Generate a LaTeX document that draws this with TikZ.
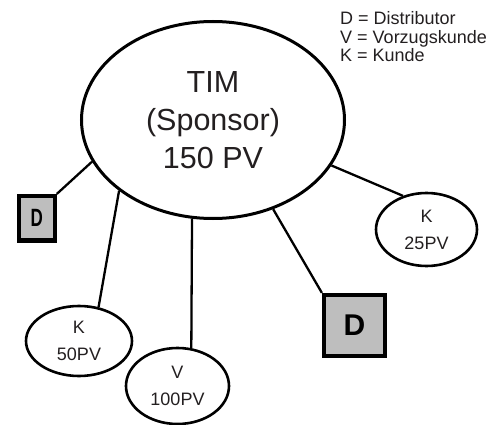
\documentclass[tikz,border=0pt]{standalone}
\usepackage{fontspec}
\setmainfont{Liberation Sans}
\usetikzlibrary{shapes.geometric}
\definecolor{boxgray}{HTML}{BEBEBE}
\definecolor{ink}{HTML}{231F20}
\begin{document}
\begin{tikzpicture}[x=1pt,y=-1pt,
  big/.style={ellipse,draw,line width=3pt,minimum width=263pt,minimum height=197pt,inner sep=0pt,align=center,text=ink,font=\fontsize{30.5}{38}\selectfont},
  small/.style={ellipse,draw,line width=2.6pt,inner sep=0pt,align=center,text=ink,font=\fontsize{18}{27}\selectfont},
  dbox/.style={rectangle,draw,line width=4.2pt,fill=boxgray,inner sep=0pt},
  link/.style={line width=2.3pt},
  legend/.style={anchor=base west,inner sep=0pt,text=ink,font=\fontsize{18}{22}\selectfont}]
\useasboundingbox (0,0) rectangle (493,425);

\node[big] (tim) at (213,120) {TIM\\(Sponsor)\\150 PV};

\node[dbox,minimum width=36pt,minimum height=44.5pt] (dl) at (36.7,218.3)
  {\fontsize{25}{25}\selectfont\scalebox{0.68}[1]{\bfseries D}};
\node[dbox,minimum width=61pt,minimum height=61pt] (dbig) at (354.5,325.5)
  {\fontsize{30}{30}\selectfont\bfseries D};

\node[small,minimum width=106pt,minimum height=70pt] (k50) at (79,341) {K\\50PV};
\node[small,minimum width=103pt,minimum height=76pt] (v100) at (177.5,386) {V\\100PV};
\node[small,minimum width=101pt,minimum height=73pt] (k25) at (426.5,229.5) {K\\25PV};

\node[legend] (l1) at (340,25) {D = Distributor};
\node[legend] (l2) at (340,43.3) {V = Vorzugskunde};
\node[legend] (l3) at (340,61.7) {K = Kunde};

\draw[link] (dl.north east) -- (tim.199.8);
\draw[link] (k50.60) -- (tim.217.9);
\draw[link] (v100.70) -- (tim.258.6);
\draw[link] (dbig.north west) -- (tim.304.1);
\draw[link] (k25.125) -- (tim.339.2);
\end{tikzpicture}
\end{document}
